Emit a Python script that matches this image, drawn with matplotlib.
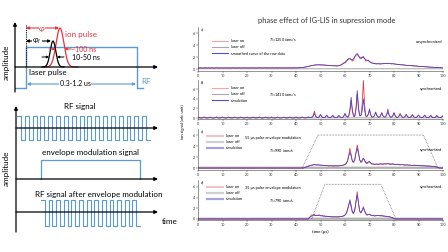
import numpy as np
import matplotlib
matplotlib.use('Agg')
import matplotlib.pyplot as plt
from matplotlib.lines import Line2D

plt.rcParams['font.family'] = ['Lato', 'DejaVu Sans']

# ---------------- data (right panels, time axis in µs, 0.5 µs step) ----------------
time_us = np.arange(0, 100.25, 0.5)

a_laser_on = [
0.20,0.15,0.22,0.18,0.12,0.20,0.25,0.15,0.18,0.20,
0.15,0.22,0.18,0.12,0.20,0.17,0.22,0.15,0.20,0.18,
0.20,0.14,0.18,0.22,0.15,0.20,0.18,0.13,0.20,0.22,
0.17,0.20,0.15,0.22,0.18,0.14,0.20,0.18,0.22,0.16,
0.20,0.18,0.15,0.20,0.22,0.16,0.18,0.20,0.14,0.20,
0.22,0.17,0.20,0.15,0.18,0.22,0.17,0.20,0.15,0.18,
0.20,0.22,0.16,0.18,0.20,0.15,0.22,0.18,0.20,0.16,
0.18,0.20,0.15,0.22,0.18,0.20,0.16,0.18,0.22,0.17,
0.20,0.18,0.22,0.20,0.25,0.22,0.28,0.30,0.35,0.38,
0.42,0.50,0.55,0.60,0.62,0.65,0.70,0.68,0.72,0.70,
0.68,0.72,0.65,0.70,0.62,0.66,0.60,0.62,0.58,0.55,
0.58,0.52,0.55,0.50,0.52,0.55,0.60,0.70,0.80,1.00,
1.00,1.20,1.50,1.70,1.80,1.60,1.30,1.50,2.00,2.40,
2.60,2.30,1.80,1.70,2.00,2.10,1.70,1.30,1.40,1.50,
1.20,1.10,1.00,0.95,0.90,0.88,0.85,0.90,0.85,0.82,
0.85,0.90,0.88,0.92,0.95,0.90,0.92,0.88,0.85,0.90,
0.86,0.82,0.80,0.78,0.75,0.72,0.70,0.72,0.68,0.65,
0.62,0.60,0.62,0.58,0.55,0.56,0.52,0.50,0.52,0.48,
0.46,0.45,0.42,0.44,0.40,0.38,0.36,0.37,0.34,0.32,
0.30,0.30,0.28,0.27,0.26,0.25,0.24,0.24,0.22,0.22,
0.20]

a_smoothed = [
0.18,0.18,0.19,0.18,0.17,0.18,0.19,0.18,0.18,0.19,
0.18,0.18,0.17,0.18,0.18,0.19,0.18,0.18,0.19,0.18,
0.18,0.17,0.18,0.19,0.18,0.18,0.18,0.17,0.18,0.19,
0.18,0.18,0.18,0.19,0.18,0.17,0.18,0.18,0.19,0.18,
0.18,0.18,0.17,0.18,0.19,0.18,0.18,0.18,0.17,0.18,
0.19,0.18,0.18,0.18,0.18,0.19,0.18,0.18,0.17,0.18,
0.18,0.19,0.18,0.18,0.18,0.17,0.18,0.19,0.18,0.18,
0.18,0.18,0.17,0.18,0.19,0.18,0.18,0.18,0.19,0.18,
0.19,0.20,0.20,0.21,0.22,0.24,0.27,0.30,0.34,0.38,
0.43,0.48,0.53,0.58,0.62,0.65,0.67,0.69,0.70,0.70,
0.69,0.68,0.67,0.66,0.64,0.62,0.60,0.59,0.57,0.55,
0.54,0.53,0.52,0.52,0.53,0.56,0.62,0.72,0.85,1.00,
1.15,1.35,1.55,1.70,1.70,1.55,1.50,1.75,2.10,2.35,
2.40,2.20,1.95,1.85,1.90,1.95,1.75,1.55,1.45,1.40,
1.25,1.10,1.00,0.95,0.90,0.88,0.87,0.87,0.86,0.86,
0.87,0.88,0.90,0.91,0.92,0.92,0.91,0.89,0.88,0.87,
0.85,0.82,0.80,0.77,0.75,0.72,0.70,0.69,0.67,0.65,
0.63,0.61,0.59,0.57,0.55,0.53,0.52,0.50,0.49,0.47,
0.46,0.44,0.42,0.41,0.39,0.38,0.36,0.35,0.34,0.32,
0.31,0.30,0.28,0.27,0.26,0.25,0.24,0.23,0.22,0.21,
0.20]

b_laser_on = [
0.15,0.08,0.03,0.02,0.07,0.22,0.09,0.03,0.02,0.06,
0.18,0.07,0.03,0.02,0.08,0.20,0.08,0.02,0.03,0.07,
0.21,0.08,0.03,0.02,0.07,0.18,0.07,0.03,0.02,0.08,
0.20,0.09,0.02,0.03,0.07,0.21,0.08,0.03,0.02,0.07,
0.19,0.08,0.03,0.02,0.08,0.20,0.07,0.02,0.03,0.08,
0.22,0.08,0.02,0.03,0.07,0.19,0.09,0.03,0.02,0.07,
0.20,0.07,0.03,0.02,0.08,0.21,0.08,0.02,0.03,0.07,
0.18,0.08,0.03,0.02,0.07,0.20,0.08,0.03,0.02,0.08,
0.21,0.09,0.03,0.03,0.08,0.22,0.09,0.04,0.05,0.12,
0.25,0.12,0.10,0.20,0.50,1.45,0.50,0.15,0.12,0.30,
0.75,0.30,0.10,0.10,0.25,0.60,0.25,0.10,0.10,0.25,
0.55,0.22,0.10,0.10,0.22,0.50,0.22,0.10,0.12,0.35,
0.90,0.35,0.15,0.30,1.40,3.60,1.40,0.30,0.30,1.80,
5.00,1.90,0.40,0.50,2.80,7.80,2.80,0.40,0.30,0.70,
1.60,0.60,0.20,0.20,0.50,1.20,0.50,0.20,0.20,0.45,
1.10,0.45,0.20,0.25,0.75,1.90,0.75,0.20,0.20,0.45,
1.10,0.45,0.15,0.15,0.40,0.90,0.38,0.15,0.15,0.32,
0.75,0.30,0.12,0.12,0.30,0.70,0.30,0.12,0.12,0.28,
0.60,0.25,0.10,0.10,0.25,0.60,0.25,0.10,0.10,0.25,
0.55,0.22,0.10,0.10,0.22,0.50,0.22,0.10,0.10,0.22,
0.50]

b_simulation = [
0.18,0.07,0.02,0.02,0.07,0.20,0.07,0.02,0.02,0.07,
0.20,0.07,0.02,0.02,0.07,0.20,0.07,0.02,0.02,0.07,
0.20,0.07,0.02,0.02,0.07,0.20,0.07,0.02,0.02,0.07,
0.20,0.07,0.02,0.02,0.07,0.20,0.07,0.02,0.02,0.07,
0.20,0.07,0.02,0.02,0.07,0.20,0.07,0.02,0.02,0.07,
0.20,0.07,0.02,0.02,0.07,0.20,0.07,0.02,0.02,0.07,
0.20,0.07,0.02,0.02,0.07,0.20,0.07,0.02,0.02,0.07,
0.20,0.07,0.02,0.02,0.07,0.20,0.07,0.02,0.02,0.07,
0.20,0.07,0.02,0.02,0.07,0.20,0.08,0.03,0.04,0.10,
0.20,0.10,0.08,0.15,0.35,0.95,0.38,0.12,0.10,0.28,
0.70,0.28,0.10,0.10,0.24,0.58,0.24,0.10,0.10,0.24,
0.55,0.22,0.10,0.10,0.22,0.50,0.22,0.10,0.15,0.40,
0.95,0.40,0.20,0.50,1.80,4.30,1.70,0.40,0.50,2.20,
5.70,2.20,0.50,0.50,1.50,4.00,1.50,0.40,0.40,0.80,
1.90,0.70,0.20,0.20,0.50,1.25,0.50,0.20,0.20,0.45,
1.10,0.45,0.20,0.20,0.60,1.40,0.55,0.20,0.20,0.45,
1.10,0.45,0.15,0.15,0.38,0.90,0.38,0.15,0.15,0.32,
0.75,0.30,0.12,0.12,0.30,0.70,0.30,0.12,0.12,0.28,
0.62,0.25,0.10,0.10,0.25,0.60,0.25,0.10,0.10,0.25,
0.55,0.22,0.10,0.10,0.22,0.52,0.22,0.10,0.10,0.22,
0.50]

c_laser_on = [0.0] * 87 + [
0.10,0.20,0.30,
0.35,0.45,0.50,0.55,0.60,0.65,0.60,0.55,0.60,0.55,
0.50,0.55,0.45,0.50,0.40,0.45,0.40,0.38,0.42,0.40,
0.38,0.35,0.40,0.38,0.35,0.40,0.42,0.45,0.50,0.55,
0.60,0.80,1.20,2.20,3.60,2.50,1.20,1.00,1.50,2.80,
4.20,3.00,1.50,1.00,1.20,1.80,1.40,0.90,0.80,1.10,
1.20,0.90,0.70,0.80,0.65,0.70,0.75,0.60,0.70,0.80,
0.70,0.65,0.80,0.70,0.75,0.85,0.70,0.65,0.70,0.80,
0.70,0.60,0.65,0.70,0.60,0.55,0.60,0.65,0.55,0.50,
0.55,0.60,0.50,0.55,0.50,0.45,0.50,0.55,0.45,0.50,
0.45,0.50,0.40,0.45,0.40,0.45,0.38,0.40,0.35,0.38,
0.35,0.30,0.32,0.28,0.25,0.20,0.10,0.00,0.00,0.00,
0.00]

c_simulation = [0.0] * 87 + [
0.08,0.15,0.25,
0.30,0.38,0.45,0.50,0.55,0.58,0.58,0.57,0.56,0.55,
0.52,0.50,0.48,0.46,0.44,0.42,0.41,0.40,0.40,0.40,
0.39,0.38,0.38,0.38,0.39,0.40,0.42,0.45,0.50,0.55,
0.65,0.85,1.30,2.10,2.90,2.20,1.30,1.10,1.60,2.80,
3.60,2.60,1.50,1.10,1.40,1.80,1.40,1.00,0.90,1.10,
1.10,0.90,0.75,0.70,0.68,0.70,0.72,0.70,0.72,0.75,
0.74,0.73,0.75,0.76,0.77,0.78,0.76,0.74,0.73,0.72,
0.70,0.68,0.67,0.66,0.64,0.62,0.61,0.60,0.58,0.56,
0.55,0.54,0.52,0.51,0.50,0.49,0.48,0.47,0.46,0.45,
0.44,0.43,0.42,0.41,0.40,0.39,0.38,0.37,0.36,0.35,
0.33,0.31,0.29,0.26,0.22,0.16,0.08,0.00,0.00,0.00,
0.00]

d_laser_on = [0.0] * 90 + [
0.00,0.30,0.60,0.80,0.70,0.90,0.60,0.75,0.65,0.80,
0.60,0.70,0.55,0.60,0.50,0.55,0.45,0.50,0.40,0.45,
0.40,0.38,0.42,0.35,0.40,0.38,0.42,0.45,0.50,0.60,
0.70,1.00,1.60,2.60,3.20,2.20,1.20,1.00,1.60,3.20,
5.10,3.00,1.40,1.10,1.60,2.30,1.50,0.90,0.70,0.80,
0.90,0.70,0.60,0.65,0.55,0.60,0.65,0.70,0.60,0.55,
0.60,0.50,0.55,0.45,0.50,0.40,0.45,0.35,0.30,0.20,
0.10] + [0.0] * 40

d_simulation = [0.0] * 90 + [
0.00,0.25,0.45,0.55,0.60,0.65,0.65,0.65,0.64,0.63,
0.60,0.58,0.55,0.52,0.50,0.48,0.46,0.44,0.42,0.41,
0.40,0.40,0.40,0.40,0.41,0.42,0.44,0.47,0.52,0.60,
0.75,1.10,1.70,2.60,3.60,2.60,1.40,1.10,1.80,3.40,
4.50,3.00,1.50,1.20,1.60,2.10,1.50,1.00,0.80,0.85,
0.90,0.75,0.65,0.62,0.60,0.60,0.62,0.64,0.65,0.64,
0.62,0.60,0.57,0.54,0.50,0.46,0.42,0.36,0.30,0.20,
0.10] + [0.0] * 40

# laser off (5 µs step)
off_time = np.arange(0, 100.5, 5)
laser_off = [0.04,0.05,0.04,0.05,0.04,0.05,0.04,0.05,0.04,0.05,0.04,
             0.05,0.04,0.05,0.04,0.05,0.04,0.05,0.04,0.05,0.04]

# pulse-envelope modulation windows (dotted)
c_env_time = [42.5, 49.0, 92.0, 98.0]
c_env_level = [0, 6.0, 6.0, 0]
d_env_time = [46.4, 51.8, 74.6, 80.8]
d_env_level = [0, 6.5, 6.5, 0]

panel_letters = ['a)', 'b)', 'c)', 'd)']
rates = ['1250', '1410', '990', '790']
sync_labels = ['unsynchronized', 'synchronized', 'synchronized', 'synchronized']
x_ticks = [0, 10, 20, 30, 40, 50, 60, 70, 80, 90, 100]
y_ticks = [0, 2, 4, 6]

# ---------------- figure ----------------
W, H = 448, 252
fig = plt.figure(figsize=(W / 100, H / 100), dpi=100)
fig.patch.set_facecolor('white')

RED = '#e8323c'
BLUE = '#4343d2'
DBLUE = '#5b9bd5'

def px_axes(x0, y0, x1, y1):
    return fig.add_axes([x0 / W, 1 - y1 / H, (x1 - x0) / W, (y1 - y0) / H])

# ---- left schematic (diagram units ~ pixels) ----
axd = px_axes(0, 0, 175, 252)
axd.set_xlim(0, 175)
axd.set_ylim(252, 0)
axd.axis('off')

def arrow(ax, x0, y0, x1, y1, color='k', lw=0.9, style='-|>', ms=5):
    ax.annotate('', xy=(x1, y1), xytext=(x0, y0),
                arrowprops=dict(arrowstyle=style, lw=lw, color=color,
                                mutation_scale=ms, shrinkA=0, shrinkB=0))

fs_small = 5.0
fs_mid = 5.8
# top diagram axes
arrow(axd, 15, 92, 15, 22)
arrow(axd, 15, 67, 158, 67)
axd.plot([15, 26, 26, 137, 137, 143], [88, 88, 47, 47, 88, 88], color=DBLUE, lw=1.0)
axd.plot([26, 26], [25, 67], color='k', lw=0.8, ls=(0, (1, 1)))
# pulses
xs = np.linspace(44, 78, 200)
ion_c, ion_s, ion_h = 60, 3.9, 39
las_c, las_s, las_h = 53, 2.8, 26
axd.plot(xs, 67 - ion_h * np.exp(-0.5 * ((xs - ion_c) / ion_s) ** 2), color=RED, lw=0.9)
xl = np.linspace(42, 64, 200)
axd.plot(xl, 67 - las_h * np.exp(-0.5 * ((xl - las_c) / las_s) ** 2), color='k', lw=0.9)
arrow(axd, 26, 28, 59, 28, color=RED, lw=0.8, style='<|-|>', ms=4)
axd.text(42, 28, 'φ', color=RED, fontsize=6, ha='center', va='center', style='italic',
         bbox=dict(fc='white', ec='none', pad=0.3))
arrow(axd, 26, 41, 51, 41, color='k', lw=0.8, style='<|-|>', ms=4)
axd.text(37, 41, 'φ$_l$', color='k', fontsize=5.5, ha='center', va='center',
         bbox=dict(fc='white', ec='none', pad=0.3))
axd.text(65, 34, 'ion pulse', color=RED, fontsize=5.8, ha='left', va='center')
arrow(axd, 49, 49, 55.5, 49, color=RED, lw=0.7, ms=3)
arrow(axd, 71, 49, 64.5, 49, color=RED, lw=0.7, ms=3)
axd.text(71, 49, '~100 ns', color=RED, fontsize=fs_small, ha='left', va='center')
arrow(axd, 42, 57, 49, 57, color='k', lw=0.7, ms=3)
arrow(axd, 64, 57, 57, 57, color='k', lw=0.7, ms=3)
axd.text(72, 57, '10-50 ns', color='k', fontsize=fs_small, ha='left', va='center')
axd.text(29, 73, 'laser pulse', color='k', fontsize=fs_mid, ha='left', va='center')
arrow(axd, 27, 84, 136, 84, color=DBLUE, lw=0.8, style='<|-|>', ms=4)
axd.text(75, 84, '0.3-1.2 us', color='k', fontsize=fs_small, ha='center', va='center',
         bbox=dict(fc='white', ec='none', pad=0.6))
axd.text(141, 81, 'RF', color=DBLUE, fontsize=fs_mid, ha='left', va='center')
axd.text(6, 62, 'amplitude', rotation=90, fontsize=fs_mid, ha='center', va='center')

# bottom diagram
arrow(axd, 16, 232, 16, 106)
axd.text(80, 107, 'RF signal', fontsize=fs_mid, ha='center', va='center')
arrow(axd, 16, 128, 158, 128)
rf_cycles = 17
rf_x = np.linspace(17, 150, 2 * rf_cycles + 1)
rf_levels = np.array([116, 140] * rf_cycles + [116])
axd.plot(np.repeat(rf_x, 2)[1:-1], np.repeat(rf_levels[:-1], 2), color=DBLUE, lw=0.8)
axd.text(90, 152, 'envelope modulation signal', fontsize=fs_mid, ha='center', va='center')
arrow(axd, 16, 179, 158, 179)
axd.plot([41, 41, 140, 140], [179, 160, 160, 179], color=DBLUE, lw=0.9)
axd.text(99, 195, 'RF signal after envelope modulation', fontsize=fs_mid, ha='center', va='center')
arrow(axd, 16, 212, 158, 212)
mod_cycles = 13
mod_x = np.linspace(41, 140, 2 * mod_cycles + 1)
mod_levels = np.array([200, 226] * mod_cycles + [200])
axd.plot(np.repeat(mod_x, 2)[1:-1], np.repeat(mod_levels[:-1], 2), color=DBLUE, lw=0.8)
axd.text(162, 221, 'time', fontsize=fs_mid, ha='left', va='center')
axd.text(6, 168, 'amplitude', rotation=90, fontsize=fs_mid, ha='center', va='center')

# ---- right panels ----
panel_px = [(27, 71), (80, 119), (129, 170), (180, 220)]
ylims = [(-0.33, 7.0), (-0.2, 7.9), (-0.36, 7.1), (-0.19, 7.3)]
on_series = [a_laser_on, b_laser_on, c_laser_on, d_laser_on]
sim_series = [a_smoothed, b_simulation, c_simulation, d_simulation]
sim_names = ['smoothed curve of the raw data', 'simulation', 'simulation', 'simulation']

fs_tick = 2.7
for i, (top, bot) in enumerate(panel_px):
    ax = px_axes(198, top, 443, bot)
    ax.set_xlim(0, 100)
    ax.set_ylim(*ylims[i])
    for s in ['top', 'right']:
        ax.spines[s].set_visible(False)
    for s in ['left', 'bottom']:
        ax.spines[s].set_linewidth(0.4)
        ax.spines[s].set_color('#444444')
    ax.set_xticks(x_ticks)
    ax.set_yticks(y_ticks)
    ax.tick_params(labelsize=fs_tick, length=1.2, width=0.3, pad=0.8, colors='#333333')
    off_lw = 0.8 if i < 2 else 1.6
    ax.plot(off_time, laser_off, color='#b0b0b0', lw=off_lw)
    ax.plot(time_us, on_series[i], color=RED, lw=0.55)
    ax.plot(time_us, sim_series[i], color=BLUE, lw=0.55)
    if i == 2:
        ax.plot(c_env_time, c_env_level, color='#555555', lw=0.5, ls=(0, (1, 1.2)))
    if i == 3:
        ax.plot(d_env_time, d_env_level, color='#555555', lw=0.5, ls=(0, (1, 1.2)))
    ax.text(0.01, 1.0, panel_letters[i], transform=ax.transAxes, fontsize=fs_tick,
            ha='left', va='top')
    if i < 2:
        hs = [Line2D([], [], color='#f4a6ae', lw=0.8), Line2D([], [], color='#a8a8a8', lw=0.8),
              Line2D([], [], color='#5050d8', lw=0.8)]
        lx = 0.057
    else:
        hs = [Line2D([], [], color='#f6bcc2', lw=1.3), Line2D([], [], color='#cfcfcf', lw=1.6),
              Line2D([], [], color='#a4a4e2', lw=1.6)]
        lx = 0.037
    ly = [0.72, 0.84, 0.88, 0.87][i]
    ax.legend(hs, ['laser on', 'laser off', sim_names[i]], loc='upper left',
              bbox_to_anchor=(lx, ly), fontsize=2.8, frameon=False, handlelength=4.2,
              handletextpad=0.7, labelspacing=0.55, borderpad=0, borderaxespad=0)
    ty = [0.70, 0.62, 0.46, 0.48][i]
    ax.text(0.29, ty, '$T_i$=%s ions/s' % rates[i], transform=ax.transAxes,
            fontsize=2.8, ha='left', va='center')
    sy = [0.66, 0.76, 0.49, 0.82][i]
    ax.text(0.995, sy, sync_labels[i], transform=ax.transAxes, fontsize=2.8,
            ha='right', va='center')
    if i == 2:
        ax.text(0.19, 0.78, '55 µs pulse envelope modulation', transform=ax.transAxes,
                fontsize=2.8, ha='left', va='center')
    if i == 3:
        ax.text(0.19, 0.80, '35 µs pulse envelope modulation', transform=ax.transAxes,
                fontsize=2.8, ha='left', va='center')

fig.text(327 / W, 1 - 21 / H, 'phase effect of IG-LIS in supression mode', fontsize=5.4,
         ha='center', va='center', color='#333333')
fig.text(183 / W, 1 - 122 / H, 'ion signal (arb. unit)', rotation=90, fontsize=3.0,
         ha='center', va='center')
fig.text(320 / W, 1 - 232 / H, 'time (µs)', fontsize=3.2, ha='center', va='center')

fig.savefig('out.png', dpi=100, facecolor='white')
